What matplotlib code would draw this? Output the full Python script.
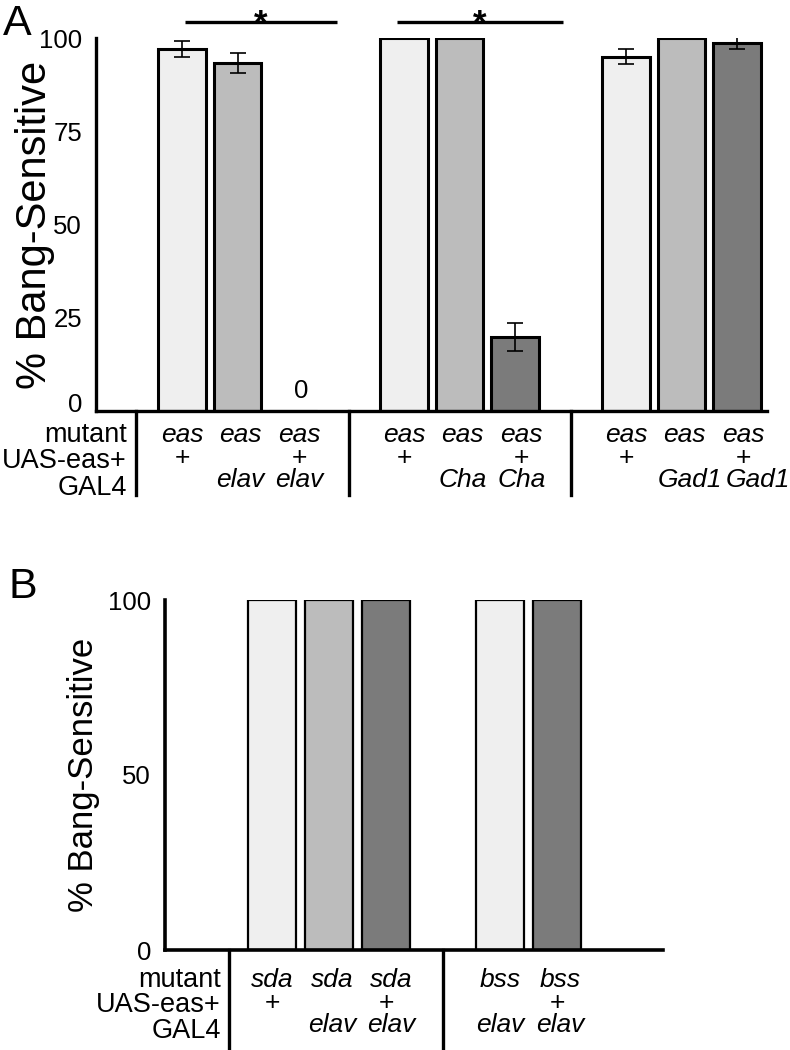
import matplotlib
matplotlib.use("Agg")
import matplotlib.pyplot as plt
import matplotlib.transforms as mtransforms

plt.rcParams['font.family'] = ['Liberation Sans', 'DejaVu Sans']

# panel A data
a_pos = [0, 1, 2, 4, 5, 6, 8, 9, 10]
a_vals = [97.0, 93.2, 0.0, 100, 100, 19.8, 95.0, 100, 98.6]
a_err = [2.1, 2.7, 0, 0, 0, 3.8, 2.1, 0, 1.6]
a_colors = ['#efefef', '#bcbcbc', '#7b7b7b'] * 3
a_mutant = ['eas'] * 9
a_uas = ['+', '', '+'] * 3
a_gal4 = ['', 'elav', 'elav', '', 'Cha', 'Cha', '', 'Gad1', 'Gad1']

# panel B data
b_pos = [0, 1, 2, 4, 5]
b_vals = [100, 100, 100, 100, 100]
b_colors = ['#efefef', '#bcbcbc', '#7b7b7b', '#efefef', '#7b7b7b']
b_mutant = ['sda', 'sda', 'sda', 'bss', 'bss']
b_uas = ['+', '', '+', '', '+']
b_gal4 = ['', 'elav', 'elav', 'elav', 'elav']

row_names = ['mutant', 'UAS-eas+', 'GAL4']

fig = plt.figure(figsize=(7.9, 10.5), dpi=100)

# ---------- panel A ----------
axA = fig.add_axes([96/790, 1-411/1050, (767-96)/790, 373/1050])
axA.bar(a_pos, a_vals, width=0.85, color=a_colors, edgecolor='black', linewidth=2.2)
for x, v, e in zip(a_pos, a_vals, a_err):
    if e > 0:
        axA.errorbar(x, v, yerr=e, color='black', capsize=6, elinewidth=1.2, capthick=1.2)
axA.set_xlim(-1.55, 10.54)
axA.set_ylim(0, 100)
axA.set_yticks([0, 25, 50, 75, 100])
axA.tick_params(axis='y', length=0, pad=10, labelsize=18.5)
axA.set_xticks([])
for s in ['top', 'right']:
    axA.spines[s].set_visible(False)
for s in ['left', 'bottom']:
    axA.spines[s].set_linewidth(2.4)
fig.text(35/790, 1-225/1050, '% Bang-Sensitive', rotation=90, ha='center', va='center', fontsize=30)

# the "0" tick label sits a bit above the axis line in the original
lab0 = axA.get_yticklabels()[0]
lab0.set_transform(lab0.get_transform() + mtransforms.ScaledTranslation(0, 8/100, fig.dpi_scale_trans))

def ya(py):
    return (411 - py) / 373 * 100

axA.text(2.15, ya(398), '0', ha='center', va='baseline', fontsize=18.5)

# significance bars
for x0, x1 in [(0.05, 2.8), (3.87, 6.86)]:
    axA.plot([x0, x1], [ya(22), ya(22)], color='black', lw=2.4, clip_on=False, solid_capstyle='butt')
    axA.text((x0 + x1) / 2, ya(34), '*', ha='center', va='baseline', fontsize=25, fontweight='bold')

# genotype rows (third column of each group sits a little to the right)
shift = [0, 0.05, 0.12] * 3
for x, dx, m, u, g in zip(a_pos, shift, a_mutant, a_uas, a_gal4):
    gx = x + dx
    if g == 'Gad1':
        gx = x + (0.15 if dx < 0.1 else 0.37)
    axA.text(x + dx, ya(442), m, ha='center', va='baseline', fontsize=19, style='italic', clip_on=False)
    axA.text(x + dx, ya(465), u, ha='center', va='baseline', fontsize=19, clip_on=False)
    axA.text(gx, ya(487), g, ha='center', va='baseline', fontsize=19, style='italic', clip_on=False)
for py, name in zip([442, 468, 495], row_names):
    axA.text(-0.99, ya(py), name, ha='right', va='baseline', fontsize=19.5, clip_on=False)
for xd in [-0.83, 3.0, 7.0]:
    axA.plot([xd, xd], [0, ya(495)], color='black', lw=2.4, clip_on=False)

fig.text(3/790, 1-35/1050, 'A', fontsize=31, ha='left', va='baseline')

# ---------- panel B ----------
axB = fig.add_axes([165/790, 1-950/1050, (663-165)/790, 350/1050])
axB.bar(b_pos, b_vals, width=0.84, color=b_colors, edgecolor='black', linewidth=1.6)
axB.set_xlim(-1.877, 6.86)
axB.set_ylim(0, 100)
axB.set_yticks([0, 50, 100])
axB.tick_params(axis='y', length=0, pad=10, labelsize=18.5)
axB.set_xticks([])
for s in ['top', 'right']:
    axB.spines[s].set_visible(False)
for s in ['left', 'bottom']:
    axB.spines[s].set_linewidth(2.6)
fig.text(83/790, 1-775/1050, '% Bang-Sensitive', rotation=90, ha='center', va='center', fontsize=25)

def yb(py):
    return (950 - py) / 350 * 100

for x, dx, m, u, g in zip(b_pos, [0, 0.05, 0.1, 0, 0.05], b_mutant, b_uas, b_gal4):
    axB.text(x + dx, yb(987), m, ha='center', va='baseline', fontsize=19, style='italic', clip_on=False)
    axB.text(x, yb(1010), u, ha='center', va='baseline', fontsize=19, clip_on=False)
    axB.text(x + dx, yb(1032), g, ha='center', va='baseline', fontsize=19, style='italic', clip_on=False)
for py, name in zip([987, 1012, 1038], row_names):
    axB.text(-0.9, yb(py), name, ha='right', va='baseline', fontsize=19.5, clip_on=False)
for xd in [-0.75, 3.0]:
    axB.plot([xd, xd], [0, yb(1048)], color='black', lw=2.4, clip_on=False)

fig.text(8/790, 1-598/1050, 'B', fontsize=31, ha='left', va='baseline')

fig.savefig('out.png', dpi=100)
